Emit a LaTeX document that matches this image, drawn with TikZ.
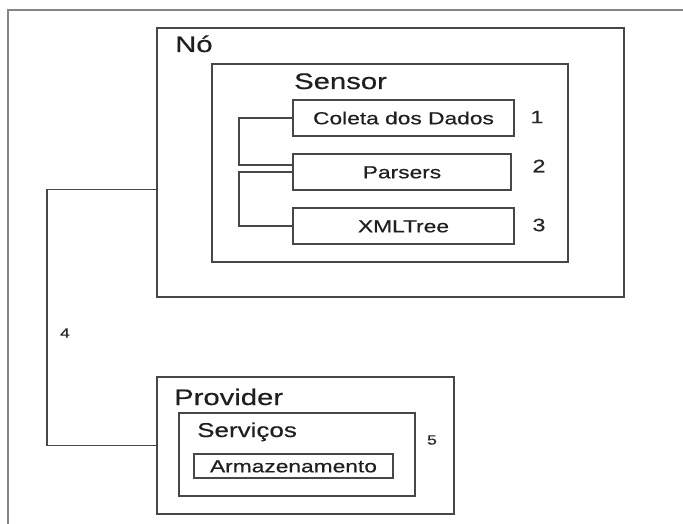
\documentclass[tikz,border=0pt]{standalone}
\usepackage{fontspec}
\setmainfont{Liberation Sans}[FakeStretch=1.3, FakeBold=0.5]
\begin{document}
\begin{tikzpicture}[x=1pt, y=-1pt,
  line/.style={draw=black!72, line width=1.2pt},
  frame/.style={draw=black!48, line width=2pt},
  container/.style={line, inner sep=0pt, outer sep=0pt, anchor=north west},
  item/.style={line, inner sep=0pt, outer sep=0pt, anchor=north west,
    text=black!88, text height=12.6pt, text depth=0pt, font=\fontsize{17.5}{20}\selectfont},
  title/.style={anchor=base west, inner sep=0pt, text=black!88, font=\fontsize{22.5}{26}\selectfont},
  subtitle/.style={anchor=base west, inner sep=0pt, text=black!88, font=\fontsize{20}{24}\selectfont},
  num/.style={inner sep=0pt, text=black!85, font=\fontsize{18}{20}\selectfont},
  smallnum/.style={inner sep=0pt, text=black!85, font=\fontsize{13.5}{16}\selectfont},
  wire/.style={draw=black!72, line width=1.2pt}]
  \useasboundingbox (0,0) rectangle (683,524);

  % page frame (top and left edges only)
  \draw[frame] (8,524) -- (8,10) -- (683,10);

  % node "Nó" with its sensor
  \node[container, minimum width=467pt, minimum height=269pt] (no) at (157,28) {};
  \node[title] (notitle) at (175,52) {Nó};
  \node[container, minimum width=356pt, minimum height=198pt] (sensor) at (212,64) {};
  \node[title] (sensortitle) at (294,89) {Sensor};

  \node[item, minimum width=221pt, minimum height=36pt] (coleta) at (293,100) {Coleta dos Dados};
  \node[item, minimum width=218pt, minimum height=36pt] (parsers) at (293,154) {Parsers};
  \node[item, minimum width=221pt, minimum height=36pt] (xmltree) at (293,208) {XMLTree};

  \node[num] (n1) at (537,117) {1};
  \node[num] (n2) at (539,166) {2};
  \node[num] (n3) at (539,225) {3};

  % links between the sensor stages
  \draw[wire] (coleta.west) -- ++(-54,0) |- ([yshift=7pt]parsers.west);
  \draw[wire] (parsers.west) -- ++(-54,0) |- (xmltree.west);

  % provider
  \node[container, minimum width=297pt, minimum height=137pt] (provider) at (157,377) {};
  \node[title] (providertitle) at (174,405) {Provider};
  \node[container, minimum width=236pt, minimum height=83pt] (servicos) at (179,413) {};
  \node[subtitle] (servicostitle) at (197,437) {Serviços};
  \node[item, minimum width=199pt, minimum height=24pt] (armaz) at (194,454) {Armazenamento};
  \node[smallnum] (n5) at (432,440) {5};

  % link between node and provider
  \draw[wire] ([yshift=-27pt]no.west) -- ++(-110,0) |- (provider.west);
  \node[smallnum] (n4) at (65,333) {4};
\end{tikzpicture}
\end{document}
